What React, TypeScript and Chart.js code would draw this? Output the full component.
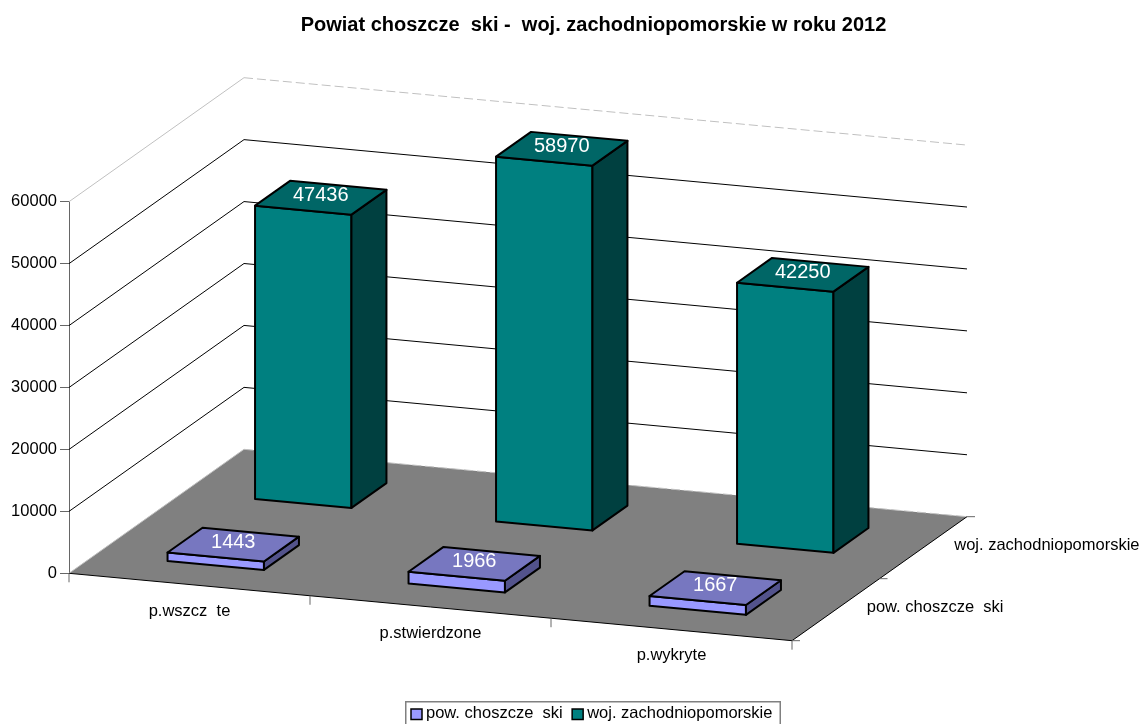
import React, { useEffect, useRef } from "react";
import { Chart, registerables } from "chart.js";

Chart.register(...registerables);

const categories = ["p.wszcz  te", "p.stwierdzone", "p.wykryte"];
const seriesNames = ["pow. choszcze  ski", "woj. zachodniopomorskie"];
const powValues = [1443, 1966, 1667];
const wojValues = [47436, 58970, 42250];
const yTicksMax = 60000;
const yTickStep = 10000;
const chartTitle = "Powiat choszcze  ski -  woj. zachodniopomorskie w roku 2012";

const frontColors = ["#9999FF", "#008080"];
const topColors = ["#7777C0", "#006666"];
const sideColors = ["#53538C", "#004040"];
const FLOOR = "#808080";
const AXIS_GRAY = "#666666";
const FONT = "'Liberation Sans', Arial, sans-serif";
const LABEL_SIZE = 16.5;

// oblique projection of the plot plane
const SHEAR = 0.0932;
const DEPTH_X = 175;
const DEPTH_Y = 124;
const BAR_DEPTH = 0.2;

function project(chart: any, px: number, py: number, d: number): [number, number] {
  const left = chart.chartArea.left;
  return [px + d * DEPTH_X, py + (px - left) * SHEAR - d * DEPTH_Y];
}

function poly(ctx: CanvasRenderingContext2D, pts: [number, number][]) {
  ctx.beginPath();
  pts.forEach((p, i) => (i ? ctx.lineTo(p[0], p[1]) : ctx.moveTo(p[0], p[1])));
  ctx.closePath();
}

function seg(ctx: CanvasRenderingContext2D, a: [number, number], b: [number, number]) {
  ctx.beginPath();
  ctx.moveTo(a[0], a[1]);
  ctx.lineTo(b[0], b[1]);
  ctx.stroke();
}

const laneCenter = (i: number) => (i + 0.5) / seriesNames.length;

const plot3d = {
  id: "plot3d",
  afterLayout(chart: any) {
    // the title sits off-centre in the reference
    const t = chart.titleBlock;
    if (t) {
      t.left = 45;
      t.right = 1142;
    }
  },
  beforeDatasetsDraw(chart: any) {
    const ctx: CanvasRenderingContext2D = chart.ctx;
    const { left, right } = chart.chartArea;
    const x = chart.scales.x;
    const y = chart.scales.y;
    const y0 = y.getPixelForValue(0);
    const yTop = y.getPixelForValue(yTicksMax);
    ctx.save();
    // floor
    ctx.fillStyle = FLOOR;
    poly(ctx, [
      project(chart, left, y0, 0),
      project(chart, right, y0, 0),
      project(chart, right, y0, 1),
      project(chart, left, y0, 1),
    ]);
    ctx.fill();
    // gridlines on both walls
    ctx.lineWidth = 1;
    ctx.strokeStyle = "#000000";
    for (const tick of y.ticks) {
      if (tick.value === 0 || tick.value === yTicksMax) continue;
      const py = y.getPixelForValue(tick.value);
      seg(ctx, project(chart, left, py, 0), project(chart, left, py, 1));
      seg(ctx, project(chart, left, py, 1), project(chart, right, py, 1));
    }
    // outer wall edges, light
    ctx.strokeStyle = "#C0C0C0";
    seg(ctx, project(chart, left, yTop, 0), project(chart, left, yTop, 1));
    seg(ctx, project(chart, left, y0, 0), project(chart, left, y0, 1));
    ctx.setLineDash([9, 4]);
    seg(ctx, project(chart, left, yTop, 1), project(chart, right, yTop, 1));
    seg(ctx, project(chart, left, y0, 1), project(chart, right, y0, 1));
    ctx.setLineDash([]);
    // floor edges
    ctx.strokeStyle = "#000000";
    seg(ctx, project(chart, left, y0, 0), project(chart, right, y0, 0));
    seg(ctx, project(chart, right, y0, 0), project(chart, right, y0, 1));
    // category ticks
    ctx.strokeStyle = AXIS_GRAY;
    const band = (right - left) / categories.length;
    for (let i = 0; i <= categories.length; i++) {
      const a = project(chart, left + i * band, y0, 0);
      seg(ctx, a, [a[0], a[1] + 9]);
    }
    // depth ticks
    for (let i = 0; i <= seriesNames.length; i++) {
      const a = project(chart, right, y0, i / seriesNames.length);
      seg(ctx, a, [a[0] + 8, a[1]]);
    }
    // axis labels
    ctx.fillStyle = "#000000";
    ctx.font = `${LABEL_SIZE}px ${FONT}`;
    ctx.textBaseline = "middle";
    ctx.textAlign = "center";
    categories.forEach((c, i) => {
      const a = project(chart, x.getPixelForValue(i), y0, 0);
      ctx.fillText(c, a[0], a[1] + 26.5);
    });
    ctx.textAlign = "left";
    seriesNames.forEach((s, i) => {
      const a = project(chart, right, y0, laneCenter(i));
      ctx.fillText(s, a[0] + 31, a[1] - 2);
    });
    ctx.restore();
  },
  beforeDatasetDraw(chart: any, args: any) {
    const ctx: CanvasRenderingContext2D = chart.ctx;
    const i = args.index;
    const d0 = laneCenter(i) - BAR_DEPTH / 2;
    const d1 = laneCenter(i) + BAR_DEPTH / 2;
    ctx.save();
    ctx.lineWidth = 2;
    ctx.lineJoin = "round";
    ctx.strokeStyle = "#000000";
    for (const el of args.meta.data) {
      const l = el.x - el.width / 2;
      const r = el.x + el.width / 2;
      const faces: [string, [number, number][]][] = [
        [frontColors[i], [project(chart, l, el.y, d0), project(chart, r, el.y, d0), project(chart, r, el.base, d0), project(chart, l, el.base, d0)]],
        [sideColors[i], [project(chart, r, el.y, d0), project(chart, r, el.y, d1), project(chart, r, el.base, d1), project(chart, r, el.base, d0)]],
        [topColors[i], [project(chart, l, el.y, d0), project(chart, l, el.y, d1), project(chart, r, el.y, d1), project(chart, r, el.y, d0)]],
      ];
      for (const [fill, pts] of faces) {
        ctx.fillStyle = fill;
        poly(ctx, pts);
        ctx.fill();
        ctx.stroke();
      }
    }
    ctx.restore();
    return false;
  },
  afterDatasetsDraw(chart: any) {
    const ctx: CanvasRenderingContext2D = chart.ctx;
    ctx.save();
    // value labels on the top faces
    ctx.fillStyle = "#FFFFFF";
    ctx.font = `20px ${FONT}`;
    ctx.textAlign = "center";
    ctx.textBaseline = "middle";
    chart.data.datasets.forEach((ds: any, i: number) => {
      const meta = chart.getDatasetMeta(i);
      meta.data.forEach((el: any, j: number) => {
        const a = project(chart, el.x, el.y, laneCenter(i));
        ctx.fillText(String(ds.data[j]), a[0], a[1] - 2.5);
      });
    });
    // legend
    ctx.strokeStyle = "#808080";
    ctx.lineWidth = 1.5;
    ctx.strokeRect(405.75, 701.75, 374.5, 30);
    ctx.font = `${LABEL_SIZE}px ${FONT}`;
    ctx.textAlign = "left";
    let cx = 411;
    chart.data.datasets.forEach((ds: any, i: number) => {
      ctx.fillStyle = frontColors[i];
      ctx.fillRect(cx, 709, 11, 10.5);
      ctx.strokeStyle = "#000000";
      ctx.lineWidth = 1.5;
      ctx.strokeRect(cx, 709, 11, 10.5);
      ctx.fillStyle = "#000000";
      ctx.fillText(ds.label, cx + 15, 713);
      cx += 15 + ctx.measureText(ds.label).width + 9.5;
    });
    ctx.restore();
  },
};

export default function App() {
  const ref = useRef<HTMLCanvasElement>(null);
  useEffect(() => {
    document.body.style.margin = "0";
    const chart = new Chart(ref.current as HTMLCanvasElement, {
      type: "bar",
      data: {
        labels: categories,
        datasets: [
          { label: seriesNames[0], data: powValues, backgroundColor: frontColors[0], borderColor: "#000000" },
          { label: seriesNames[1], data: wojValues, backgroundColor: frontColors[1], borderColor: "#000000" },
        ],
      },
      options: {
        responsive: false,
        animation: false,
        barPercentage: 0.4,
        categoryPercentage: 1,
        layout: { padding: { left: 0, right: 350, top: 0, bottom: 0 } },
        plugins: {
          legend: { display: false },
          tooltip: { enabled: false },
          title: {
            display: true,
            text: chartTitle,
            color: "#000000",
            font: { family: FONT, size: 20, weight: "bold", lineHeight: 1 },
            padding: { top: 15, bottom: 201.7 - 15 - 20 },
          },
        },
        scales: {
          x: {
            stacked: true,
            grid: { display: false },
            border: { display: false },
            ticks: { display: false },
            afterFit: (s: any) => {
              s.height = 724 - 573.3;
            },
          },
          y: {
            min: 0,
            max: yTicksMax,
            grid: { drawOnChartArea: false, drawTicks: true, tickLength: 9, color: AXIS_GRAY },
            border: { display: true, color: AXIS_GRAY, width: 1 },
            ticks: {
              stepSize: yTickStep,
              padding: 3,
              color: "#000000",
              font: { family: FONT, size: LABEL_SIZE },
              callback: (v: any) => String(v),
            },
            afterFit: (s: any) => {
              s.width = 69;
            },
          },
        },
      },
      plugins: [plot3d],
    } as any);
    return () => chart.destroy();
  }, []);
  return <canvas ref={ref} width={1142} height={724} style={{ display: "block", width: 1142, height: 724 }} />;
}
